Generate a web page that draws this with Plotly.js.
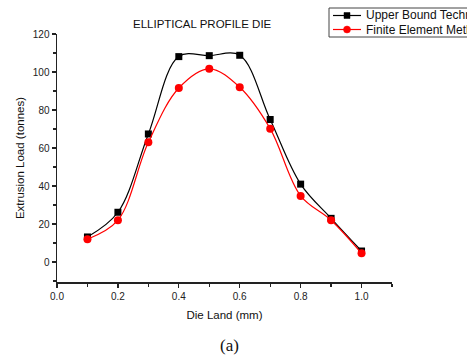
<!DOCTYPE html>
<html>
<head>
<meta charset="utf-8">
<script src="https://cdn.plot.ly/plotly-3.0.1.min.js"></script>
<style>
  html, body { margin: 0; padding: 0; background: #fff; }
  #chart { width: 467px; height: 364px; }
</style>
</head>
<body>
<div id="chart"></div>
<script>
// Die land lengths (mm)
const dieLand = [0.1, 0.2, 0.3, 0.4, 0.5, 0.6, 0.7, 0.8, 0.9, 1.0];
// Extrusion load (tonnes) by method
const upperBound = [13.2, 26.2, 67.4, 108.1, 108.6, 108.8, 75.0, 41.0, 23.0, 5.8];
const finiteElement = [12.0, 22.0, 63.0, 91.6, 101.7, 92.0, 70.2, 34.8, 22.0, 4.6];
const seriesNames = ['Upper Bound Technique', 'Finite Element Method'];
const seriesColors = ['#000000', '#ff0000'];

const font = 'Liberation Sans, Arial, sans-serif';

const traces = [
  {
    x: dieLand, y: upperBound, name: seriesNames[0],
    type: 'scatter', mode: 'lines+markers',
    line: { color: seriesColors[0], width: 1.2, shape: 'spline', smoothing: 1 },
    marker: { color: seriesColors[0], symbol: 'square', size: 7 }
  },
  {
    x: dieLand, y: finiteElement, name: seriesNames[1],
    type: 'scatter', mode: 'lines+markers',
    line: { color: seriesColors[1], width: 1.2, shape: 'spline', smoothing: 1 },
    marker: { color: seriesColors[1], symbol: 'circle', size: 8 }
  }
];

const axisCommon = {
  showgrid: false, zeroline: false, showline: true,
  linecolor: '#222', linewidth: 1.5,
  ticks: 'outside', ticklen: 4, tickwidth: 1.2, tickcolor: '#222',
  tickfont: { family: font, size: 10, color: '#222' },
  mirror: false
};

const W = 467, H = 364;
const M = { l: 57, r: 75, t: 34, b: 82, autoexpand: false };
const plotW = W - M.l - M.r, plotH = H - M.t - M.b;
// page pixel -> paper fraction
const px = v => (v - M.l) / plotW;
const py = v => (H - M.b - v) / plotH;

// Compact boxed key in the page's upper right corner, running off the edge
const key = { left: 329, top: 8, bottom: 37, rowY: [15.5, 29.5], lineX: [333, 361], textX: 364 };
const shapes = [
  {
    type: 'rect', xref: 'paper', yref: 'paper',
    x0: px(key.left), x1: px(W + 10), y0: py(key.bottom), y1: py(key.top),
    line: { color: '#444', width: 1 }, fillcolor: '#ffffff', layer: 'above'
  }
];
const annotations = [];
seriesNames.forEach((name, i) => {
  const yy = py(key.rowY[i]);
  shapes.push({
    type: 'line', xref: 'paper', yref: 'paper',
    x0: px(key.lineX[0]), x1: px(key.lineX[1]), y0: yy, y1: yy,
    line: { color: seriesColors[i], width: 1.2 }, layer: 'above'
  });
  const cx = (key.lineX[0] + key.lineX[1]) / 2;
  const r = i === 0 ? 3 : 3.5;
  shapes.push({
    type: i === 0 ? 'rect' : 'circle', xref: 'paper', yref: 'paper',
    x0: px(cx - r), x1: px(cx + r),
    y0: py(key.rowY[i] + r), y1: py(key.rowY[i] - r),
    line: { color: seriesColors[i], width: 0.5 }, fillcolor: seriesColors[i], layer: 'above'
  });
  annotations.push({
    text: name, xref: 'paper', yref: 'paper',
    x: px(key.textX), y: yy, xanchor: 'left', yanchor: 'middle', showarrow: false,
    font: { family: font, size: 12, color: '#111' }
  });
});

annotations.push(
  {
    text: 'ELLIPTICAL PROFILE DIE', xref: 'paper', yref: 'paper',
    x: px(202), y: 1.01, xanchor: 'center', yanchor: 'bottom', showarrow: false,
    font: { family: font, size: 11.5, color: '#111' }
  },
  {
    text: '(a)', xref: 'paper', yref: 'paper',
    x: px(229), y: py(334), xanchor: 'center', yanchor: 'top', showarrow: false,
    font: { family: 'Liberation Serif, Times New Roman, serif', size: 17, color: '#111' }
  }
);

const layout = {
  width: W, height: H,
  margin: M,
  paper_bgcolor: '#ffffff', plot_bgcolor: '#ffffff',
  font: { family: font, color: '#222' },
  showlegend: false,
  xaxis: Object.assign({}, axisCommon, {
    range: [0, 1.1], tick0: 0, dtick: 0.2, tickformat: '.1f',
    minor: { dtick: 0.1, ticks: 'outside', ticklen: 3, tickcolor: '#222' },
    title: { text: 'Die Land (mm)', font: { family: font, size: 11.5, color: '#111' }, standoff: 10 }
  }),
  yaxis: Object.assign({}, axisCommon, {
    range: [-10.5, 120], tick0: 0, dtick: 20,
    minor: { dtick: 10, ticks: 'outside', ticklen: 3, tickcolor: '#222' },
    title: { text: 'Extrusion Load (tonnes)', font: { family: font, size: 11.5, color: '#111' }, standoff: 6 }
  }),
  shapes: shapes,
  annotations: annotations
};

Plotly.newPlot('chart', traces, layout, { displayModeBar: false, staticPlot: true });
</script>
</body>
</html>
